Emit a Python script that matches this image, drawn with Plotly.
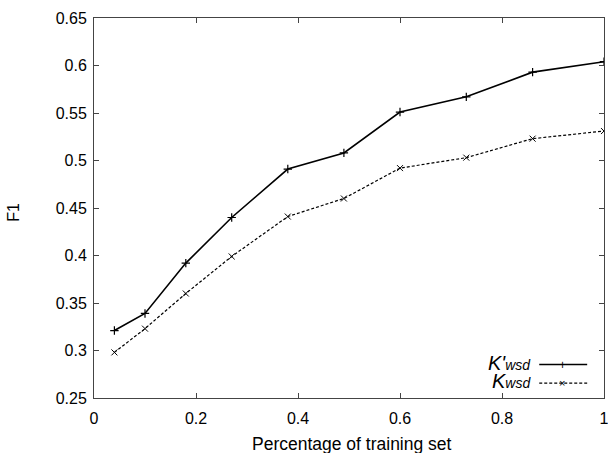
import plotly.graph_objects as go

x_vals = [0.04, 0.10, 0.18, 0.27, 0.38, 0.49, 0.60, 0.73, 0.86, 1.00]
k_prime_wsd = [0.321, 0.339, 0.392, 0.440, 0.491, 0.508, 0.551, 0.567, 0.593, 0.604]
k_wsd = [0.298, 0.323, 0.360, 0.399, 0.441, 0.460, 0.492, 0.503, 0.523, 0.531]

x_ticks = [0, 0.2, 0.4, 0.6, 0.8, 1.0]
x_tick_labels = ["0", "0.2", "0.4", "0.6", "0.8", "1"]
y_ticks = [0.25, 0.3, 0.35, 0.4, 0.45, 0.5, 0.55, 0.6, 0.65]
y_tick_labels = ["0.25", "0.3", "0.35", "0.4", "0.45", "0.5", "0.55", "0.6", "0.65"]

FONT = "Liberation Sans, Arial, sans-serif"

fig = go.Figure()
fig.add_trace(go.Scatter(
    x=x_vals, y=k_prime_wsd, mode="lines+markers", name="K'wsd",
    line=dict(color="black", width=1.6),
    marker=dict(symbol="cross-thin", size=6, line=dict(color="black", width=1.2)),
))
fig.add_trace(go.Scatter(
    x=x_vals, y=k_wsd, mode="lines+markers", name="Kwsd",
    line=dict(color="black", width=1.2, dash="3px,2px"),
    marker=dict(symbol="x-thin", size=6, line=dict(color="black", width=1.0)),
))

axis_common = dict(
    showgrid=False, zeroline=False, showline=True, linecolor="#444", linewidth=1,
    mirror="ticks", ticks="inside", ticklen=5, tickcolor="#444", tickwidth=1,
    tickfont=dict(family=FONT, size=16, color="black"), automargin=False,
    ticklabeloverflow="allow",
)

fig.update_layout(
    width=608, height=453,
    margin=dict(l=94, r=4, t=18, b=55, autoexpand=False),
    paper_bgcolor="white", plot_bgcolor="white",
    showlegend=False,
    xaxis=dict(range=[0, 1], tickvals=x_ticks, ticktext=x_tick_labels, ticklabelstandoff=6, **axis_common),
    yaxis=dict(range=[0.25, 0.65], tickvals=y_ticks, ticktext=y_tick_labels, ticklabelstandoff=3, **axis_common),
)

# axis titles
fig.add_annotation(xref="paper", yref="paper", x=0.505, y=-0.122, text="Percentage of training set",
                   showarrow=False, xanchor="center", yanchor="middle",
                   font=dict(family=FONT, size=17.5, color="black"))
fig.add_annotation(xref="paper", yref="paper", x=-0.157, y=0.49, text="F1", showarrow=False,
                   textangle=-90, xanchor="center", yanchor="middle",
                   font=dict(family=FONT, size=16, color="black"))

# legend (key text on the left, sample on the right, gnuplot style)
legend_rows = [("<i>K'<span style='font-size:14px'>wsd</span></i>", "solid", 1.6, 0.088),
               ("<i>K<span style='font-size:14px'>wsd</span></i>", "dash", 1.2, 0.039)]
for text, dash, lw, yp in legend_rows:
    fig.add_annotation(xref="paper", yref="paper", x=0.861, y=yp + 0.005, text=text, showarrow=False,
                       xanchor="right", yanchor="middle", height=18, valign="middle",
                       font=dict(family=FONT, size=20, color="black"))
    fig.add_shape(type="line", xref="paper", yref="paper", x0=0.873, x1=0.967, y0=yp, y1=yp,
                  line=dict(color="black", width=lw, dash="solid" if dash == "solid" else "3px,2px"))
fig.add_annotation(xref="paper", yref="paper", x=0.918, y=0.088, text="+", showarrow=False,
                   font=dict(family=FONT, size=12, color="black"), xanchor="center", yanchor="middle")
fig.add_annotation(xref="paper", yref="paper", x=0.918, y=0.039, text="×", showarrow=False,
                   font=dict(family=FONT, size=11, color="black"), xanchor="center", yanchor="middle")

fig.write_html("out.html", config={"displayModeBar": False},
               post_script="document.body.style.margin='0';document.body.style.overflow='hidden';")
